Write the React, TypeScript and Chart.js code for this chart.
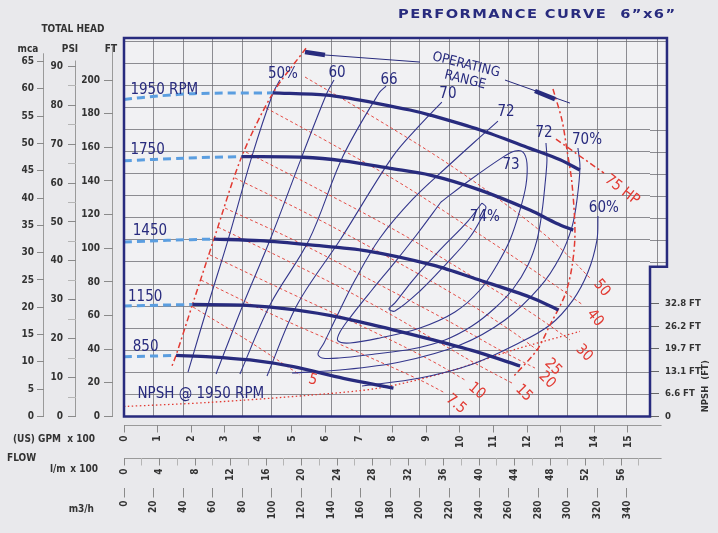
import React, { useEffect, useRef } from 'react';
import { Chart, registerables } from 'chart.js';

Chart.register(...registerables);

// ---------- unit conversions ----------
const GPM_PER_M3H = 4.402868;
const LPM_PER_GPM = 3.785412;
const FT_PER_M = 3.28084;

// ---------- axis ranges ----------
const X_MAX_GPM = 1565.5; // flow at right edge of plot area (US GPM)
const X_EXT_GPM = 1616; // upper right extension of the frame
const X_AXIS_LINE_END_GPM = 1600;
const Y_MAX_FT = 225;
const NOTCH_FT = 89;
const MCA_MAX = 69.3;
const PSI_MAX = 97.3;
const NPSH_MAX_FT = 109.9;
const MCA_LINE_TOP = 66.5;
const PSI_LINE_TOP = 91.5;
const FT_LINE_TOP = 220;

// ---------- tick labels ----------
const MCA_TICKS = [0, 5, 10, 15, 20, 25, 30, 35, 40, 45, 50, 55, 60, 65];
const PSI_TICKS = [0, 5, 10, 15, 20, 25, 30, 35, 40, 45, 50, 55, 60, 65, 70, 75, 80, 85, 90];
const FT_TICKS = [0, 20, 40, 60, 80, 100, 120, 140, 160, 180, 200];
const GRID_M_TICKS = [0, 4, 8, 12, 16, 20, 24, 28, 32, 36, 40, 44, 48, 52, 56, 60, 64, 68];
const GPM_TICKS = [0, 1, 2, 3, 4, 5, 6, 7, 8, 9, 10, 11, 12, 13, 14, 15];
const LPM_TICKS = [0, 2, 4, 6, 8, 10, 12, 14, 16, 18, 20, 22, 24, 26, 28, 30, 32, 34, 36, 38, 40, 42, 44, 46, 48, 50, 52, 54, 56, 58];
const M3H_TICKS = [0, 20, 40, 60, 80, 100, 120, 140, 160, 180, 200, 220, 240, 260, 280, 300, 320, 340];
const M3H_EXT_GRID = [360];
const NPSH_TICKS = [0, 6.6, 13.1, 19.7, 26.2, 32.8];

// ---------- head curves  [US GPM, FT] ----------
type P = [number, number];
const HEAD_1950: P[] = [[443, 192.4], [603, 191.1], [673, 189.1], [752, 186.2], [851, 182.2], [911, 179.2], [1060, 170.3], [1208, 159.4], [1298, 152.6], [1357, 146.5]];
const HEAD_1950_LOW: P[] = [[0, 188.5], [100, 190.5], [217, 192], [443, 192.4]];
const HEAD_1750: P[] = [[350, 154.5], [534, 154.1], [653, 152], [792, 147.5], [911, 143.5], [1060, 134.6], [1208, 122.7], [1288, 114.8], [1337, 110.8]];
const HEAD_1750_LOW: P[] = [[0, 152], [180, 153.6], [350, 154.5]];
const HEAD_1450: P[] = [[268, 105.5], [405, 104.5], [554, 102], [722, 98.5], [920, 90], [1060, 81], [1208, 71], [1293, 63.3]];
const HEAD_1450_LOW: P[] = [[0, 103.7], [130, 104.7], [268, 105.5]];
const HEAD_1150: P[] = [[204, 66.6], [355, 66.2], [504, 63.5], [653, 58.5], [801, 51.5], [920, 45.5], [1060, 37.8], [1179, 30]];
const HEAD_1150_LOW: P[] = [[0, 65.7], [204, 66.6]];
const HEAD_850: P[] = [[155, 36.3], [256, 35.5], [375, 33.6], [504, 29.6], [653, 22.7], [802, 16.9]];
const HEAD_850_LOW: P[] = [[0, 35.5], [155, 36.3]];

// ---------- efficiency lines ----------
const EFF_50: P[] = [[190.5, 26.4], [250, 66.3], [309.5, 104.9], [381, 154.8], [443.5, 192.3], [464, 200]];
const EFF_60: P[] = [[274, 25.3], [354, 66.3], [434.5, 104.9], [530, 154.8], [604, 192.3], [625, 200]];
const EFF_66: P[] = [[345, 25.3], [434.5, 66.3], [550.6, 104.9], [652, 154.8], [759, 192.3], [780, 196.4]];
const EFF_70: P[] = [[425.6, 24.1], [515, 66.3], [643, 104.9], [800.6, 154.8], [881, 173.3], [946, 186.9]];
const EFF_72: P[] = [[1113, 175.6], [1059.5, 166.1], [961.2, 148.3], [860, 129.3], [761.9, 106.1], [687.5, 81.1], [630.9, 58.5], [595.2, 43.7], [577.3, 37.2], [589.2, 34.8], [639.8, 34.8], [747, 37.2], [857, 40.1], [955.3, 45.5], [1035.6, 53.8], [1104.1, 64.5], [1157.7, 75.8], [1202.3, 90.1], [1229.1, 104.9], [1244, 121.6], [1252.9, 137.6], [1258.8, 152.5], [1255.9, 162.6]];
const EFF_73: P[] = [[943.4, 127.5], [1029.7, 140.6], [1127.9, 154.2], [1163.6, 157.8], [1187.4, 157.2], [1199.3, 150.7], [1196.4, 137.6], [1178.5, 122.7], [1148.7, 104.9], [1110, 90.1], [1059.5, 75.2], [985, 62.1], [880.9, 52.6], [761.9, 46.7], [672.6, 43.7], [636.9, 44.9], [642.8, 50.2], [678.5, 60.3], [738, 75.2], [806.5, 91.8], [875, 109.1], [943.4, 127.5]];
const EFF_74: P[] = [[1065.4, 126.9], [1023.7, 116.2], [940.4, 99], [860, 81.1], [806.5, 67.5], [788.6, 63.9], [806.5, 62.7], [880.9, 74.6], [961.2, 91.2], [1029.7, 106.7], [1065.4, 118.6], [1077.3, 124.5], [1065.4, 126.9]];
const EFF_70_RIGHT: P[] = [[1351, 159.6], [1357, 148.3], [1348.1, 128.7], [1333.2, 112.6], [1297.5, 94.8], [1238, 77], [1133.9, 57.4], [1000, 42.5], [821.4, 32.4], [642.8, 27.6], [500, 25.9]];
const EFF_60_RIGHT: P[] = [[1410.6, 119.2], [1407.6, 104.9], [1380.9, 85.9], [1336.2, 69.2], [1267.8, 54.4], [1163.6, 42.5], [1029.7, 30.6], [880.9, 22.9], [708.3, 18.1]];

// ---------- power lines (HP) ----------
const HP_50: P[] = [[538.7, 201.8], [761.9, 175.6], [970.2, 149.5], [1178.5, 119.8], [1297.5, 100.2], [1386.8, 82.3]];
const HP_40: P[] = [[422.6, 183.4], [613, 162.6], [821.4, 138.8], [1029.7, 112], [1208.3, 88.3], [1366, 66.3]];
const HP_30: P[] = [[363, 157.2], [583.3, 134.6], [821.4, 109.1], [1029.7, 84.1], [1208.3, 62.1], [1327.3, 45.5]];
const HP_25: P[] = [[330.3, 141.8], [553.5, 119.8], [791.6, 94.2], [1000, 70.4], [1148.7, 51.4], [1238, 38.3]];
const HP_20: P[] = [[300.6, 123.9], [523.8, 103.1], [761.9, 78.2], [970.2, 56.2], [1119, 39.5], [1223.1, 28.8]];
const HP_15: P[] = [[279.7, 112.6], [494, 91.8], [732, 67.5], [940.4, 43.7], [1059.5, 30], [1154.7, 19.9]];
const HP_10: P[] = [[256, 96], [494, 73.4], [732.1, 51.4], [910.7, 33.6], [1014.8, 21.7]];
const HP_7_5: P[] = [[229.2, 81.1], [464.3, 58.5], [702.3, 37.7], [880.9, 21.7], [955.3, 14]];
const HP_5: P[] = [[205.3, 65.1], [375, 44.3], [523.8, 24.7]];
const HP_75_LIMIT: P[] = [[1285.6, 164.9], [1428.5, 144.7]];

// ---------- operating limits ----------
const LEFT_LIMIT: P[] = [[541.6, 218.9], [443.5, 192.3], [350.3, 154.5], [267.8, 105.5], [203.9, 66.6], [154.8, 36.3], [142.8, 30]];
const RIGHT_LIMIT: P[] = [[1276.7, 194.7], [1303.5, 176.2], [1318.4, 158.4], [1333.2, 138.8], [1342.2, 109.1], [1333.2, 88.9], [1312.4, 72.2], [1267.8, 54.4], [1229.1, 39.5], [1157.7, 23.5]];
const OPR_L_THICK: P[] = [[538.7, 216.7], [598.2, 214.9]];
const OPR_L_THIN: P[] = [[598.2, 214.9], [880.9, 210.7]];
const OPR_R_THIN: P[] = [[1133.9, 200], [1327.3, 186.3]];
const OPR_R_THICK: P[] = [[1223.1, 193.5], [1282.7, 188.7]];

// ---------- NPSH @1950 (GPM, NPSH ft) ----------
const NPSH_1950: P[] = [[0, 2.9], [256, 4.1], [553.5, 6.2], [762, 8.3], [961, 12.9], [1158, 19.3], [1357, 24.7]];

// ---------- labels [text, GPM, FT, rotation] ----------
const RPM_LABELS: [string, number, number][] = [['1950 RPM', 19, 194.1], ['1750', 19, 158.6], ['1450', 26, 110.3], ['1150', 12, 70.8], ['850', 26, 41.1], ['NPSH @ 1950 RPM', 40, 13.2]];
const EFF_LABELS: [string, number, number][] = [['50%', 473, 203.6], ['60', 634, 204.2], ['66', 789, 200], ['70', 964, 191.7], ['72', 1137, 181], ['72', 1250, 168.5], ['70%', 1378, 164.4], ['73', 1152, 149.5], ['74%', 1074, 118.6], ['60%', 1428, 123.9]];
const HP_LABELS: [string, number, number, number][] = [['5', 562, 21.7, 15], ['7.5', 988, 7.4, 40], ['10', 1050, 15.2, 40], ['15', 1190, 14, 45], ['20', 1259, 21.7, 45], ['25', 1277, 29.4, 45], ['30', 1369, 37.7, 45], ['40', 1402, 58.5, 50], ['50', 1422, 76.4, 50], ['75 HP', 1482, 134.6, 38]];
const OPR_LABELS: [string, number, number, number][] = [['OPERATING', 1018, 209, 14], ['RANGE', 1015, 200, 14]];

const TITLE = 'PERFORMANCE CURVE  6\u201dx6\u201d';

// ---------- styles ----------
const NAVY = '#282b7e';
const NAVY_THIN = '#34378c';
const LIGHT_BLUE = '#5b9ee0';
const RED = '#e23a32';
const GRID_C = 'rgba(105,105,112,0.75)';
const AXIS_C = '#9a9a9a';
const TXT = '#333333';
const AXIS_FONT = "'Liberation Sans Narrow','DejaVu Sans Condensed','Arial Narrow',sans-serif";
const CURVE_FONT = "'DejaVu Sans Condensed','Liberation Sans Narrow',sans-serif";

const pts = (a: P[]) => a.map(([x, y]) => ({ x, y }));

function ds(data: P[], color: string, width: number, dash: number[] = [], axis = 'y', tension = 0.35) {
  return {
    type: 'line' as const,
    data: pts(data),
    borderColor: color,
    borderWidth: width,
    borderDash: dash,
    borderCapStyle: 'butt' as const,
    pointRadius: 0,
    fill: false,
    tension,
    xAxisID: 'x',
    yAxisID: axis,
  };
}

const tickFont = { family: AXIS_FONT, size: 10, weight: 'bold' as const };
const setTicks = (arr: number[]) => (s: any) => {
  s.ticks = arr.map((v) => ({ value: v }));
};

const decor = {
  id: 'decor',
  beforeDraw(chart: any) {
    const { ctx, chartArea: ca, scales } = chart;
    const xr = scales.x.getPixelForValue(X_EXT_GPM);
    const yn = scales.y.getPixelForValue(NOTCH_FT);
    ctx.save();
    ctx.fillStyle = '#e9e9ec';
    ctx.fillRect(0, 0, chart.width, chart.height);
    ctx.beginPath();
    ctx.moveTo(ca.left, ca.top);
    ctx.lineTo(xr, ca.top);
    ctx.lineTo(xr, yn);
    ctx.lineTo(ca.right, yn);
    ctx.lineTo(ca.right, ca.bottom);
    ctx.lineTo(ca.left, ca.bottom);
    ctx.closePath();
    ctx.fillStyle = '#f1f1f3';
    ctx.fill();

    // axis lines (drawn to their real extent)
    ctx.strokeStyle = AXIS_C;
    ctx.lineWidth = 1;
    ctx.beginPath();
    const vline = (s: any, top: number) => {
      const x = Math.round(s.right) - 0.5;
      ctx.moveTo(x, ca.bottom + 0.5);
      ctx.lineTo(x, s.getPixelForValue(top));
    };
    vline(scales.mca, MCA_LINE_TOP);
    vline(scales.psi, PSI_LINE_TOP);
    vline(scales.y, FT_LINE_TOP);
    const xEnd = scales.x.getPixelForValue(X_AXIS_LINE_END_GPM);
    [scales.gpm, scales.lpm].forEach((s: any) => {
      const y = Math.round(s.top) + 0.5;
      ctx.moveTo(ca.left, y);
      ctx.lineTo(xEnd, y);
    });
    ctx.stroke();
    ctx.restore();
  },
  beforeDatasetsDraw(chart: any) {
    const { ctx, chartArea: ca, scales } = chart;
    const xr = scales.x.getPixelForValue(X_EXT_GPM);
    const yn = scales.y.getPixelForValue(NOTCH_FT);
    ctx.save();
    ctx.strokeStyle = GRID_C;
    ctx.lineWidth = 1;
    ctx.beginPath();
    GRID_M_TICKS.forEach((m) => {
      const y = Math.round(scales.gridm.getPixelForValue(m)) + 0.5;
      if (y < yn) {
        ctx.moveTo(ca.right, y);
        ctx.lineTo(xr, y);
      }
    });
    M3H_EXT_GRID.forEach((v) => {
      const x = Math.round(scales.m3h.getPixelForValue(v)) + 0.5;
      ctx.moveTo(x, ca.top);
      ctx.lineTo(x, yn);
    });
    ctx.stroke();
    ctx.restore();
  },
  afterDatasetsDraw(chart: any) {
    const { ctx, chartArea: ca, scales } = chart;
    const X = (v: number) => scales.x.getPixelForValue(v);
    const Y = (v: number) => scales.y.getPixelForValue(v);
    const xr = X(X_EXT_GPM);
    const yn = Y(NOTCH_FT);
    ctx.save();
    // frame
    ctx.strokeStyle = NAVY;
    ctx.lineWidth = 2.5;
    ctx.beginPath();
    ctx.moveTo(ca.left, ca.top);
    ctx.lineTo(xr, ca.top);
    ctx.lineTo(xr, yn);
    ctx.lineTo(ca.right, yn);
    ctx.lineTo(ca.right, ca.bottom);
    ctx.lineTo(ca.left, ca.bottom);
    ctx.closePath();
    ctx.stroke();

    const text = (t: string, x: number, y: number, font: string, color: string, align: CanvasTextAlign = 'center', rot = 0) => {
      ctx.save();
      ctx.translate(x, y);
      ctx.rotate((rot * Math.PI) / 180);
      ctx.font = font;
      ctx.fillStyle = color;
      ctx.textAlign = align;
      ctx.textBaseline = 'middle';
      ctx.fillText(t, 0, 0);
      ctx.restore();
    };

    // curve labels
    RPM_LABELS.forEach(([t, gx, fy]) => text(t, X(gx), Y(fy), `15px ${CURVE_FONT}`, NAVY, 'left'));
    EFF_LABELS.forEach(([t, gx, fy]) => text(t, X(gx), Y(fy), `15px ${CURVE_FONT}`, NAVY));
    HP_LABELS.forEach(([t, gx, fy, r]) => text(t, X(gx), Y(fy), `15px ${CURVE_FONT}`, RED, 'center', r));
    OPR_LABELS.forEach(([t, gx, fy, r]) => text(t, X(gx), Y(fy), `13.5px ${CURVE_FONT}`, NAVY, 'center', r));

    // axis titles
    const bf = `bold 10px ${AXIS_FONT}`;
    const sm = scales.mca, sp = scales.psi, sf = scales.y, sg = scales.gpm, sl = scales.lpm, sh = scales.m3h, sn = scales.npsh;
    text('TOTAL HEAD', 73, 29, bf, TXT);
    text('mca', sm.right - 16, 49, bf, TXT);
    text('PSI', sp.right - 6, 49, bf, TXT);
    text('FT', sf.right - 2, 49, bf, TXT);
    text('(US) GPM  x 100', 95, sg.top + 15, bf, TXT, 'right');
    text('FLOW', 7, sg.bottom + 1, bf, TXT, 'left');
    text('l/m', 50, sl.top + 12, bf, TXT, 'left');
    text('x 100', 98, sl.top + 12, bf, TXT, 'right');
    text('m3/h', 94, sh.top + 22, bf, TXT, 'right');
    text('NPSH  (FT)', sn.right - 12, Y(18), `bold 9.5px ${AXIS_FONT}`, TXT, 'center', -90);

    // title (wide lettering)
    ctx.font = `bold 12px 'DejaVu Sans', sans-serif`;
    ctx.fillStyle = NAVY;
    ctx.textBaseline = 'middle';
    ctx.textAlign = 'left';
    const sx = 1.22;
    const chars = TITLE.split('');
    const widths = chars.map((c) => ctx.measureText(c).width * sx);
    const total = widths.reduce((a, b) => a + b, 0);
    const x0 = 398, x1 = 675;
    const gap = (x1 - x0 - total) / (chars.length - 1);
    let cx = x0;
    chars.forEach((c, i) => {
      ctx.save();
      ctx.translate(cx, 15);
      ctx.scale(sx, 1);
      ctx.fillText(c, 0, 0);
      ctx.restore();
      cx += widths[i] + gap;
    });
    ctx.restore();
  },
};

export default function App() {
  const ref = useRef<HTMLCanvasElement | null>(null);
  useEffect(() => {
    if (!ref.current) return;
    const thick = 3.3;
    const datasets: any[] = [
      ds(HEAD_1950, NAVY, thick, [], 'y', 0.3),
      ds(HEAD_1750, NAVY, thick, [], 'y', 0.3),
      ds(HEAD_1450, NAVY, thick, [], 'y', 0.3),
      ds(HEAD_1150, NAVY, thick, [], 'y', 0.3),
      ds(HEAD_850, NAVY, thick, [], 'y', 0.3),
      ds(HEAD_1950_LOW, LIGHT_BLUE, 3, [8, 5], 'y', 0.3),
      ds(HEAD_1750_LOW, LIGHT_BLUE, 3, [8, 5], 'y', 0.3),
      ds(HEAD_1450_LOW, LIGHT_BLUE, 3, [8, 5], 'y', 0.3),
      ds(HEAD_1150_LOW, LIGHT_BLUE, 3, [8, 5], 'y', 0.3),
      ds(HEAD_850_LOW, LIGHT_BLUE, 3, [8, 5], 'y', 0.3),
      ds(OPR_L_THICK, NAVY, 4.5, [], 'y', 0),
      ds(OPR_R_THICK, NAVY, 4.5, [], 'y', 0),
      ds(OPR_L_THIN, NAVY, 1, [], 'y', 0),
      ds(OPR_R_THIN, NAVY, 1, [], 'y', 0),
      ds(LEFT_LIMIT, RED, 1.5, [6, 3, 2, 3], 'y', 0.3),
      ds(RIGHT_LIMIT, RED, 1.5, [6, 3, 2, 3], 'y', 0.3),
      ds(HP_75_LIMIT, RED, 1.5, [6, 3, 2, 3], 'y', 0),
      ds(EFF_50, NAVY_THIN, 1.1),
      ds(EFF_60, NAVY_THIN, 1.1),
      ds(EFF_66, NAVY_THIN, 1.1),
      ds(EFF_70, NAVY_THIN, 1.1),
      ds(EFF_72, NAVY_THIN, 1.1),
      ds(EFF_73, NAVY_THIN, 1.1),
      ds(EFF_74, NAVY_THIN, 1.1),
      ds(EFF_70_RIGHT, NAVY_THIN, 1.1),
      ds(EFF_60_RIGHT, NAVY_THIN, 1.1),
      ds(HP_50, RED, 0.9, [3, 2.5]),
      ds(HP_40, RED, 0.9, [3, 2.5]),
      ds(HP_30, RED, 0.9, [3, 2.5]),
      ds(HP_25, RED, 0.9, [3, 2.5]),
      ds(HP_20, RED, 0.9, [3, 2.5]),
      ds(HP_15, RED, 0.9, [3, 2.5]),
      ds(HP_10, RED, 0.9, [3, 2.5]),
      ds(HP_7_5, RED, 0.9, [3, 2.5]),
      ds(HP_5, RED, 0.9, [3, 2.5]),
      ds(NPSH_1950, RED, 1.3, [1.5, 2.5], 'npsh', 0.3),
    ];

    const chart = new Chart(ref.current, {
      type: 'line',
      data: { datasets },
      plugins: [decor],
      options: {
        animation: false,
        responsive: true,
        maintainAspectRatio: false,
        events: [],
        layout: { padding: { top: 38, bottom: 7.5, left: 0, right: 0 } },
        plugins: { legend: { display: false }, tooltip: { enabled: false }, title: { display: false } },
        scales: {
          x: {
            type: 'linear', position: 'bottom', weight: 0, min: 0, max: X_MAX_GPM,
            ticks: { display: false }, grid: { display: false }, border: { display: false },
            afterFit: (s: any) => { s.height = 8; },
          },
          gpm: {
            type: 'linear', axis: 'x', position: 'bottom', weight: 1, min: 0, max: X_MAX_GPM / 100,
            afterBuildTicks: setTicks(GPM_TICKS),
            ticks: { autoSkip: false, minRotation: 90, maxRotation: 90, padding: 3, font: tickFont, color: TXT },
            grid: { drawOnChartArea: false, drawTicks: true, tickLength: 8, color: '#8a8a8a' },
            border: { display: false },
            afterFit: (s: any) => { s.height = 33; },
          },
          lpm: {
            type: 'linear', axis: 'x', position: 'bottom', weight: 2, min: 0, max: (X_MAX_GPM * LPM_PER_GPM) / 100,
            afterBuildTicks: setTicks(LPM_TICKS),
            ticks: { autoSkip: false, minRotation: 90, maxRotation: 90, padding: 3, font: tickFont, color: TXT,
              callback: (v: any) => (v % 4 === 0 ? String(v) : '') },
            grid: { drawOnChartArea: false, drawTicks: true, tickLength: 8,
              color: (c: any) => (c.tick && c.tick.value % 4 === 0 ? '#8a8a8a' : '#b5b5b5') },
            border: { display: false },
            afterFit: (s: any) => { s.height = 30; },
          },
          m3h: {
            type: 'linear', axis: 'x', position: 'bottom', weight: 3, min: 0, max: X_MAX_GPM / GPM_PER_M3H,
            afterBuildTicks: setTicks(M3H_TICKS),
            ticks: { autoSkip: false, minRotation: 90, maxRotation: 90, padding: 3, font: tickFont, color: TXT },
            grid: { drawOnChartArea: true, drawTicks: true, tickLength: 10, color: GRID_C, tickColor: '#8a8a8a' },
            border: { display: false },
            afterFit: (s: any) => { s.height = 38; },
          },
          gridm: {
            type: 'linear', axis: 'y', position: 'left', weight: 0, min: 0, max: Y_MAX_FT / FT_PER_M,
            afterBuildTicks: setTicks(GRID_M_TICKS),
            ticks: { display: false },
            grid: { drawOnChartArea: true, drawTicks: false, color: GRID_C },
            border: { display: false },
            afterFit: (s: any) => { s.width = 11; },
          },
          y: {
            type: 'linear', position: 'left', weight: 1, min: 0, max: Y_MAX_FT,
            afterBuildTicks: setTicks(FT_TICKS),
            ticks: { autoSkip: false, padding: 4, font: tickFont, color: TXT },
            grid: { drawOnChartArea: false, drawTicks: true, tickLength: 9, color: '#8a8a8a' },
            border: { display: false },
            afterFit: (s: any) => { s.width = 37; },
          },
          psi: {
            type: 'linear', axis: 'y', position: 'left', weight: 2, min: 0, max: PSI_MAX,
            afterBuildTicks: setTicks(PSI_TICKS),
            ticks: { autoSkip: false, padding: 5, font: tickFont, color: TXT,
              callback: (v: any) => (v % 10 === 0 ? String(v) : '') },
            grid: { drawOnChartArea: false, drawTicks: true, tickLength: 8,
              color: (c: any) => (c.tick && c.tick.value % 10 === 0 ? '#8a8a8a' : '#b5b5b5') },
            border: { display: false },
            afterFit: (s: any) => { s.width = 32; },
          },
          mca: {
            type: 'linear', axis: 'y', position: 'left', weight: 3, min: 0, max: MCA_MAX,
            afterBuildTicks: setTicks(MCA_TICKS),
            ticks: { autoSkip: false, padding: 3, font: tickFont, color: TXT },
            grid: { drawOnChartArea: false, drawTicks: true, tickLength: 7, color: '#8a8a8a' },
            border: { display: false },
            afterFit: (s: any) => { s.width = 44; },
          },
          npsh: {
            type: 'linear', axis: 'y', position: 'right', min: 0, max: NPSH_MAX_FT,
            afterBuildTicks: setTicks(NPSH_TICKS),
            ticks: { autoSkip: false, padding: 6, font: { family: AXIS_FONT, size: 9.5, weight: 'bold' as const }, color: TXT,
              callback: (v: any) => (v === 0 ? '0' : Number(v).toFixed(1) + ' FT') },
            grid: { drawOnChartArea: false, drawTicks: true, tickLength: 9, color: '#666' },
            border: { display: false },
            afterFit: (s: any) => { s.width = 68; },
          },
        },
      } as any,
    });
    return () => chart.destroy();
  }, []);

  return (
    <div style={{ position: 'fixed', left: 0, top: 0, width: 718, height: 533 }}>
      <canvas ref={ref} />
    </div>
  );
}
